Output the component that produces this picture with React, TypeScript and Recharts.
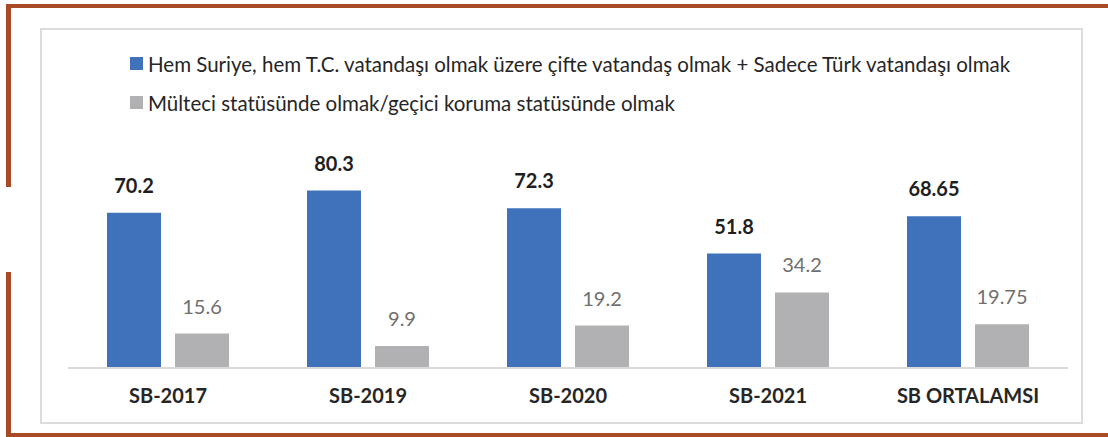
import { Bar, BarChart, XAxis, YAxis, LabelList } from "recharts"

const categories = ["SB-2017", "SB-2019", "SB-2020", "SB-2021", "SB ORTALAMSI"]
const citizenship = [70.2, 80.3, 72.3, 51.8, 68.65]
const refugee = [15.6, 9.9, 19.2, 34.2, 19.75]
const seriesNames = [
  "Hem Suriye, hem T.C. vatandaşı olmak üzere çifte vatandaş olmak + Sadece Türk vatandaşı olmak",
  "Mülteci statüsünde olmak/geçici koruma statüsünde olmak",
]

const data = categories.map((name, i) => ({
  name,
  citizenship: citizenship[i],
  refugee: refugee[i],
}))

const font = "Lato, 'Noto Sans', sans-serif"
const BLUE = "#4072bb"
const GRAY = "#b1b1b3"
const BROWN = "#a84a26"

function LegendBox() {
  const colors = [BLUE, GRAY]
  return (
    <div style={{ position: "absolute", left: 130, top: 44, fontFamily: font, fontSize: 20.5, color: "#262626", whiteSpace: "nowrap" }}>
      {seriesNames.map((n, i) => (
        <div key={n} style={{ display: "flex", alignItems: "center", height: 39 }}>
          <span style={{ width: 13, height: 13, background: colors[i], marginRight: 5, display: "inline-block" }} />
          {n}
        </div>
      ))}
    </div>
  )
}

export default function App() {
  return (
    <div style={{ position: "absolute", left: 0, top: 0, width: 1108, height: 437, background: "#fff" }}>
      {/* brown frame */}
      <div style={{ position: "absolute", left: 6, top: 4, width: 1102, height: 4, background: BROWN }} />
      <div style={{ position: "absolute", left: 6, top: 4, width: 5, height: 183, background: BROWN }} />
      <div style={{ position: "absolute", left: 6, top: 272, width: 5, height: 165, background: BROWN }} />
      <div style={{ position: "absolute", left: 6, top: 433, width: 1102, height: 4, background: BROWN }} />
      {/* chart frame */}
      <div style={{ position: "absolute", left: 40, top: 28, width: 1043, height: 396, border: "2px solid #dcdcdc", boxSizing: "border-box" }} />
      <LegendBox />
      <div style={{ position: "absolute", left: 0, top: 0 }}>
        <BarChart
          width={1108}
          height={437}
          data={data}
          margin={{ top: 147, right: 40, left: 68, bottom: 39 }}
          barCategoryGap={39}
          barGap={14}
        >
          <XAxis
            dataKey="name"
            axisLine={{ stroke: "#d9d9d9", strokeWidth: 2 }}
            tickLine={false}
            tickMargin={15}
            tick={{ fill: "#262626", fontFamily: font, fontSize: 20, fontWeight: 700 }}
          />
          <YAxis hide domain={[0, 100]} />
          <Bar dataKey="citizenship" fill={BLUE} barSize={54} isAnimationActive={false}>
            <LabelList
              dataKey="citizenship"
              position="top"
              offset={20}
              style={{ fill: "#1f1f1f", fontFamily: font, fontSize: 20, fontWeight: 700 }}
            />
          </Bar>
          <Bar dataKey="refugee" fill={GRAY} barSize={54} isAnimationActive={false}>
            <LabelList
              dataKey="refugee"
              position="top"
              offset={20}
              style={{ fill: "#6f6f6f", fontFamily: font, fontSize: 20 }}
            />
          </Bar>
        </BarChart>
      </div>
    </div>
  )
}
